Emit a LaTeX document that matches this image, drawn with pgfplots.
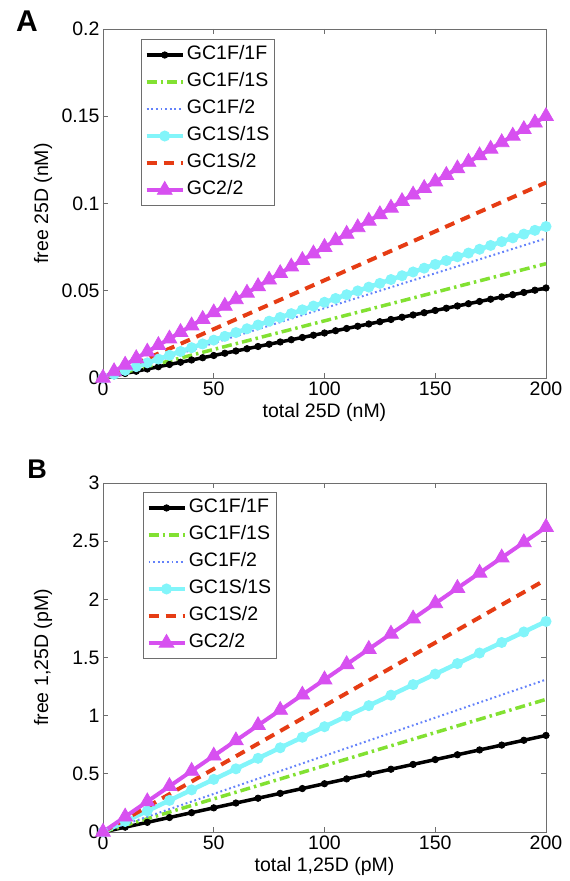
\documentclass[border=0pt]{standalone}
\usepackage{pgfplots}
\pgfplotsset{compat=1.18}
\usepackage{fontspec}
\setmainfont{Liberation Sans}

\definecolor{cgreen}{RGB}{130,225,50}
\definecolor{cblue}{RGB}{100,130,250}
\definecolor{ccyan}{RGB}{130,245,250}
\definecolor{cred}{RGB}{230,60,20}
\definecolor{cmag}{RGB}{215,80,240}
\definecolor{axgray}{RGB}{110,110,110}

\pgfplotsset{
  panel/.style={
    scale only axis, width=443pt, height=349pt,
    xmin=0, xmax=200, xtick={0,50,...,200},
    tick align=inside, major tick length=5pt,
    xtick pos=both, ytick pos=both,
    axis line style={axgray, line width=0.8pt},
    tick style={axgray, line width=0.8pt},
    scaled y ticks=false,
    /pgf/number format/assume math mode=true,
    font=\fontsize{19.5}{23}\selectfont,
    clip=false,
    xlabel style={at={(axis description cs:0.5,-0.1)}, anchor=center},
    ylabel style={at={(axis description cs:-0.135,0.5)}, anchor=center},
    legend cell align=left,
    legend style={anchor=north west, draw=axgray, line width=0.8pt,
      font=\fontsize{19.5}{23}\selectfont,
      inner xsep=3pt, inner ysep=2pt,
      nodes={inner ysep=4pt, text height=14pt, text depth=5pt}},
    legend image code/.code={
      \draw[mark repeat=2, mark phase=2, #1]
        plot coordinates {(0pt,0pt) (18pt,0pt) (36pt,0pt)};
    },
  },
  s1/.style={black, line width=3.5pt, mark=*, mark size=3.2pt,
    mark options={solid, fill=black, line width=0.8pt}},
  s2/.style={cgreen, line width=3.5pt, dash pattern=on 10pt off 4pt on 2.5pt off 4pt},
  s3/.style={cblue, line width=2pt, dash pattern=on 1.8pt off 2.8pt},
  s4/.style={ccyan, line width=4.5pt, mark=*, mark size=5pt,
    mark options={solid, fill=ccyan, line width=1pt}},
  s5/.style={cred, line width=4pt, dash pattern=on 10pt off 7pt},
  s6/.style={cmag, line width=4pt, mark=triangle*, mark size=8.5pt,
    mark options={solid, fill=cmag, line width=0.8pt}},
}

% panel A, marked series every 5 nM
\pgfplotstableread{
x a b c
0 0 0 0
5 0.00129 0.00217 0.00375
10 0.00258 0.00434 0.0075
15 0.00387 0.00651 0.01125
20 0.00516 0.00868 0.015
25 0.00645 0.01085 0.01875
30 0.00774 0.01302 0.0225
35 0.00903 0.01519 0.02625
40 0.01032 0.01736 0.03
45 0.01161 0.01953 0.03375
50 0.0129 0.0217 0.0375
55 0.01419 0.02387 0.04125
60 0.01548 0.02604 0.045
65 0.01677 0.02821 0.04875
70 0.01806 0.03038 0.0525
75 0.01935 0.03255 0.05625
80 0.02064 0.03472 0.06
85 0.02193 0.03689 0.06375
90 0.02322 0.03906 0.0675
95 0.02451 0.04123 0.07125
100 0.0258 0.0434 0.075
105 0.02709 0.04557 0.07875
110 0.02838 0.04774 0.0825
115 0.02967 0.04991 0.08625
120 0.03096 0.05208 0.09
125 0.03225 0.05425 0.09375
130 0.03354 0.05642 0.0975
135 0.03483 0.05859 0.10125
140 0.03612 0.06076 0.105
145 0.03741 0.06293 0.10875
150 0.0387 0.0651 0.1125
155 0.03999 0.06727 0.11625
160 0.04128 0.06944 0.12
165 0.04257 0.07161 0.12375
170 0.04386 0.07378 0.1275
175 0.04515 0.07595 0.13125
180 0.04644 0.07812 0.135
185 0.04773 0.08029 0.13875
190 0.04902 0.08246 0.1425
195 0.05031 0.08463 0.14625
200 0.0516 0.0868 0.15
}\tabA

% panel B, marked series every 10 pM
\pgfplotstableread{
x a b c
0 0 0 0
10 0.0415 0.0905 0.131
20 0.083 0.181 0.262
30 0.1245 0.2715 0.393
40 0.166 0.362 0.524
50 0.2075 0.4525 0.655
60 0.249 0.543 0.786
70 0.2905 0.6335 0.917
80 0.332 0.724 1.048
90 0.3735 0.8145 1.179
100 0.415 0.905 1.31
110 0.4565 0.9955 1.441
120 0.498 1.086 1.572
130 0.5395 1.1765 1.703
140 0.581 1.267 1.834
150 0.6225 1.3575 1.965
160 0.664 1.448 2.096
170 0.7055 1.5385 2.227
180 0.747 1.629 2.358
190 0.7885 1.7195 2.489
200 0.83 1.81 2.62
}\tabB

\begin{document}
\begin{tikzpicture}
\path[use as bounding box] (0,0) rectangle (570pt,881pt);

\node[font=\fontsize{30}{30}\selectfont\bfseries] at (27pt,860pt) {A};
\node[font=\fontsize{27}{27}\selectfont\bfseries] at (37pt,412pt) {B};

\begin{axis}[panel, at={(103pt,503pt)}, anchor=south west,
  ymin=0, ymax=0.2, ytick={0,0.05,...,0.2},
  yticklabels={0,0.05,0.1,0.15,0.2},
  xlabel={total 25D (nM)}, ylabel={free 25D (nM)},
  legend style={at={(axis description cs:0.086,0.971)}}]
\addplot[s1] table[x=x,y=a] {\tabA};
\addplot[s2] coordinates {(0,0) (200,0.0655)};
\addplot[s3] coordinates {(0,0) (200,0.080)};
\addplot[s4] table[x=x,y=b] {\tabA};
\addplot[s5] coordinates {(0,0) (200,0.112)};
\addplot[s6] table[x=x,y=c] {\tabA};
\legend{GC1F/1F,GC1F/1S,GC1F/2,GC1S/1S,GC1S/2,GC2/2}
\end{axis}

\begin{axis}[panel, at={(103pt,49pt)}, anchor=south west,
  ymin=0, ymax=3, ytick={0,0.5,...,3},
  yticklabels={0,0.5,1,1.5,2,2.5,3},
  xlabel={total 1,25D (pM)}, ylabel={free 1,25D (pM)},
  legend style={at={(axis description cs:0.090,0.974)}}]
\addplot[s1] table[x=x,y=a] {\tabB};
\addplot[s2] coordinates {(0,0) (200,1.14)};
\addplot[s3] coordinates {(0,0) (200,1.31)};
\addplot[s4] table[x=x,y=b] {\tabB};
\addplot[s5] coordinates {(0,0) (200,2.17)};
\addplot[s6] table[x=x,y=c] {\tabB};
\legend{GC1F/1F,GC1F/1S,GC1F/2,GC1S/1S,GC1S/2,GC2/2}
\end{axis}
\end{tikzpicture}
\end{document}
